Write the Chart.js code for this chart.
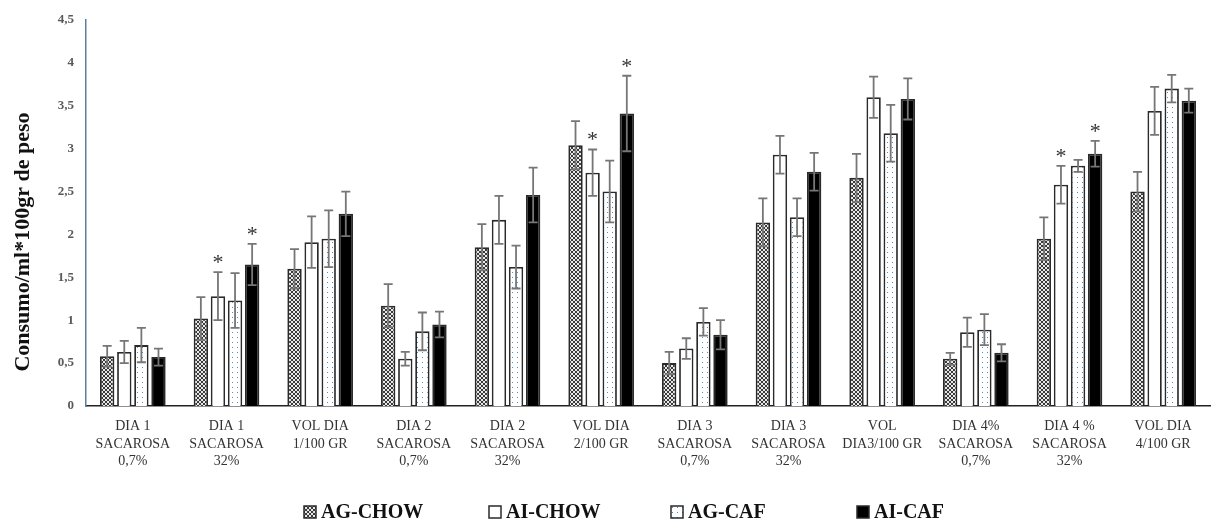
<!DOCTYPE html>
<html><head><meta charset="utf-8">
<script src="https://cdn.jsdelivr.net/npm/chart.js@4/dist/chart.umd.min.js"></script>
<style>html,body{margin:0;padding:0;background:#fff}#wrap{width:1217px;height:521px}</style>
</head><body><div id="wrap"><canvas id="c" width="1217" height="521"></canvas></div>
<script>
const categories = [
  ["DIA 1","SACAROSA","0,7%"],["DIA 1","SACAROSA","32%"],["VOL DIA","1/100 GR"],
  ["DIA 2","SACAROSA","0,7%"],["DIA 2","SACAROSA","32%"],["VOL DIA","2/100 GR"],
  ["DIA 3","SACAROSA","0,7%"],["DIA 3","SACAROSA","32%"],["VOL","DIA3/100 GR"],
  ["DIA 4%","SACAROSA","0,7%"],["DIA 4 %","SACAROSA","32%"],["VOL DIA","4/100 GR"]
];
const seriesNames = ["AG-CHOW","AI-CHOW","AG-CAF","AI-CAF"];
const agChow = [0.58,1.02,1.60,1.17,1.85,3.04,0.50,2.14,2.66,0.55,1.95,2.50];
const aiChow = [0.63,1.28,1.91,0.55,2.17,2.72,0.67,2.93,3.60,0.86,2.58,3.44];
const agCaf  = [0.71,1.23,1.95,0.87,1.62,2.50,0.98,2.20,3.18,0.89,2.80,3.70];
const aiCaf  = [0.57,1.65,2.24,0.95,2.46,3.41,0.83,2.73,3.58,0.62,2.94,3.56];
const errAgChow = [0.12,0.25,0.23,0.25,0.27,0.28,0.13,0.28,0.28,0.07,0.25,0.23];
const errAiChow = [0.13,0.28,0.30,0.08,0.28,0.27,0.12,0.22,0.24,0.17,0.22,0.28];
const errAgCaf  = [0.20,0.32,0.33,0.22,0.25,0.36,0.16,0.22,0.33,0.18,0.07,0.16];
const errAiCaf  = [0.10,0.24,0.26,0.15,0.32,0.44,0.17,0.22,0.24,0.10,0.15,0.14];
const sigAiChow = [1,5,10];
const sigAiCaf  = [1,5,10];
const yTicks = [0,0.5,1,1.5,2,2.5,3,3.5,4,4.5];
const yTitle = 'Consumo/ml*100gr de peso';

function makePattern(kind){
  const t=document.createElement('canvas');
  const ctx=t.getContext('2d');
  if(kind==='hatch'){
    t.width=4;t.height=4;
    ctx.fillStyle='#3a3a3a';ctx.fillRect(0,0,4,4);
    ctx.fillStyle='#e8e8e8';
    ctx.fillRect(1,0,2,1);ctx.fillRect(0,1,1,2);ctx.fillRect(3,1,1,2);ctx.fillRect(1,3,2,1);
  } else {
    t.width=5;t.height=5;
    ctx.fillStyle='#fff';ctx.fillRect(0,0,5,5);
    ctx.fillStyle='#4f8fc0';ctx.fillRect(2,2,1,1);
  }
  return document.getElementById('c').getContext('2d').createPattern(t,'repeat');
}
const hatch=makePattern('hatch'), dots=makePattern('dots');

const errs=[errAgChow,errAiChow,errAgCaf,errAiCaf];
const sigs={1:sigAiChow,3:sigAiCaf};
const border='#2a2a2a';

const errPlugin={
  id:'errbars',
  afterDatasetsDraw(chart){
    const ctx=chart.ctx, y=chart.scales.y;
    ctx.save();
    chart.data.datasets.forEach((ds,di)=>{
      const meta=chart.getDatasetMeta(di);
      meta.data.forEach((bar,i)=>{
        const v=ds.data[i], e=errs[di][i];
        const yt=y.getPixelForValue(v+e), yb=y.getPixelForValue(v-e);
        ctx.strokeStyle='#767676';ctx.lineWidth=1.8;
        ctx.beginPath();
        ctx.moveTo(bar.x,yt);ctx.lineTo(bar.x,yb);
        ctx.moveTo(bar.x-4.5,yt);ctx.lineTo(bar.x+4.5,yt);
        ctx.moveTo(bar.x-4.5,yb);ctx.lineTo(bar.x+4.5,yb);
        ctx.stroke();
        if(sigs[di] && sigs[di].includes(i)){
          ctx.fillStyle='#333';ctx.font='22px "Liberation Serif"';
          ctx.textAlign='center';ctx.textBaseline='middle';
          ctx.fillText('*',bar.x,yt-9);
        }
      });
    });
    ctx.restore();
  }
};

// y-axis title and legend drawn by plugin for exact placement
const decoPlugin={
  id:'deco',
  afterDraw(chart){
    const ctx=chart.ctx;
    ctx.save();
    ctx.translate(23,242);ctx.rotate(-Math.PI/2);
    ctx.font='bold 22px "Liberation Serif"';ctx.fillStyle='#111';
    ctx.textAlign='center';ctx.textBaseline='middle';
    ctx.fillText(yTitle,0,0);
    ctx.restore();
    const xs=[304,489,671,857];
    ctx.save();
    ctx.font='bold 20px "Liberation Serif"';ctx.textBaseline='middle';ctx.textAlign='left';
    chart.data.datasets.forEach((ds,i)=>{
      const x=xs[i], yc=512;
      ctx.fillStyle=ds.backgroundColor;ctx.fillRect(x,yc-6,12,12);
      ctx.strokeStyle=border;ctx.lineWidth=1.5;ctx.strokeRect(x,yc-6,12,12);
      ctx.fillStyle='#111';ctx.fillText(ds.label,x+17,yc+1);
    });
    ctx.restore();
  }
};

new Chart(document.getElementById('c'),{
  type:'bar',
  data:{labels:categories,datasets:[
    {label:seriesNames[0],data:agChow,backgroundColor:hatch,borderColor:border,borderWidth:1.8},
    {label:seriesNames[1],data:aiChow,backgroundColor:'#fff',borderColor:border,borderWidth:1.8},
    {label:seriesNames[2],data:agCaf,backgroundColor:dots,borderColor:border,borderWidth:1.8},
    {label:seriesNames[3],data:aiCaf,backgroundColor:'#000',borderColor:border,borderWidth:1.8}
  ]},
  options:{
    responsive:false,animation:false,devicePixelRatio:1,
    categoryPercentage:0.73,barPercentage:0.84,
    layout:{padding:{top:20,right:7,left:0,bottom:0}},
    plugins:{tooltip:{enabled:false},legend:{display:false}},
    scales:{
      x:{grid:{display:false,drawTicks:false},border:{color:'#222',width:1.5},
        ticks:{font:{family:'Liberation Serif',size:14,lineHeight:1.28},color:'#333',padding:11,maxRotation:0,autoSkip:false},
        afterFit(s){s.height=115;}
      },
      y:{min:0,max:4.5,afterBuildTicks(s){s.ticks=yTicks.map(v=>({value:v}));},
        grid:{display:false,drawTicks:false},border:{color:'#5a7fa0',width:1.5},
        ticks:{font:{family:'Liberation Serif',size:13,weight:'bold'},color:'#595959',padding:12,
          callback:v=>String(v).replace('.',',')},
        afterFit(s){s.width=86;}
      }
    }
  },
  plugins:[errPlugin,decoPlugin]
});
</script></body></html>
